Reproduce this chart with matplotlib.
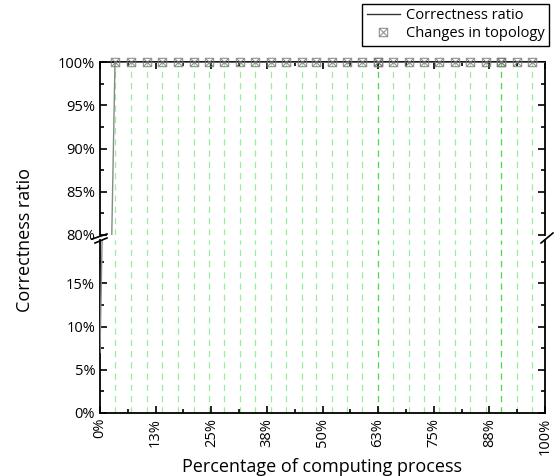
import numpy as np
import matplotlib
matplotlib.use("Agg")
import matplotlib.pyplot as plt
from matplotlib.path import Path
from matplotlib.ticker import FixedLocator, FuncFormatter

plt.rcParams['font.family'] = ['Open Sans', 'DejaVu Sans']

# topology change events (% of computing process); 62.54 and 90.21 occur twice
events = [3.37, 6.97, 10.57, 13.95, 17.55, 21.15, 24.52, 27.90, 31.50, 34.87,
          38.47, 41.84, 45.44, 48.59, 52.19, 55.57, 58.94, 62.54, 62.54, 65.92,
          69.52, 72.89, 76.27, 79.87, 83.24, 86.84, 90.21, 90.21, 93.81, 97.19]

# correctness ratio over the run
ratio_x = [0.0, 3.37, 100.0]
ratio_y = [7.0, 100.0, 100.0]

xticks = [0, 12.5, 25, 37.5, 50, 62.5, 75, 87.5, 100]

# square with a cross inside
box_x = Path([(-1, -1), (1, -1), (1, 1), (-1, 1), (-1, -1),
              (-1, -1), (1, 1), (-1, 1), (1, -1)],
             [Path.MOVETO, Path.LINETO, Path.LINETO, Path.LINETO, Path.CLOSEPOLY,
              Path.MOVETO, Path.LINETO, Path.MOVETO, Path.LINETO])

W, H = 554, 476
fig = plt.figure(figsize=(W / 100, H / 100), dpi=100)
left, right = 100 / W, 545 / W
ax_top = fig.add_axes([left, 1 - 235 / H, right - left, (235 - 62) / H])
ax_bot = fig.add_axes([left, 1 - 413 / H, right - left, (413 - 240) / H])

for ax in (ax_top, ax_bot):
    for ev in set(events):
        n = events.count(ev)
        ax.axvline(ev, color='#44dd44' if n > 1 else '#99ee99', lw=0.9,
                   dashes=(5, 4), zorder=1)
    ax.plot(ratio_x, ratio_y, color='#888888', lw=1.0, zorder=3,
            label='Correctness ratio')
    ax.plot(events, [100] * len(events), ls='none', marker=box_x, ms=6,
            mfc='none', mec='#777777', mew=0.8, alpha=0.8, zorder=4,
            label='Changes in topology', clip_on=False)
    ax.set_xlim(0, 100)
    ax.xaxis.set_major_locator(FixedLocator(xticks))
    ax.xaxis.set_minor_locator(FixedLocator([t + 6.25 for t in xticks[:-1]]))
    ax.tick_params(which='both', direction='in', top=True, right=True,
                   labelsize=10.5, width=1.2)
    ax.tick_params(which='major', length=5)
    ax.tick_params(which='minor', length=3)
    for s in ax.spines.values():
        s.set_linewidth(1.3)

ax_top.set_ylim(80, 100)
ax_top.set_yticks([80, 85, 90, 95, 100])
ax_top.set_yticks([82.5, 87.5, 92.5, 97.5], minor=True)
ax_top.spines['bottom'].set_visible(False)
ax_top.tick_params(which='both', bottom=False, labelbottom=False)

ax_bot.set_ylim(0, 20)
ax_bot.set_yticks([0, 5, 10, 15])
ax_bot.set_yticks([2.5, 7.5, 12.5, 17.5], minor=True)
ax_bot.spines['top'].set_visible(False)
ax_bot.tick_params(which='both', top=False)

pct = FuncFormatter(lambda v, p: '%d%%' % int(v + 0.5))
ax_top.yaxis.set_major_formatter(pct)
ax_bot.yaxis.set_major_formatter(pct)
ax_bot.xaxis.set_major_formatter(pct)
plt.setp(ax_bot.get_xticklabels(), rotation=90)

ax_bot.set_xlabel('Percentage of computing process', fontsize=13, labelpad=2)
fig.text(0.045, 1 - 240 / H, 'Correctness ratio', rotation=90, fontsize=13,
         ha='center', va='center')

# break marks on both y spines
for xs, ys in [((92, 107), (239, 234)), ((95, 107), (243, 238)),
               ((541, 553), (243, 233))]:
    fig.add_artist(plt.Line2D([xs[0] / W, xs[1] / W],
                              [1 - ys[0] / H, 1 - ys[1] / H],
                              color='black', lw=1.2))

h, l = ax_top.get_legend_handles_labels()
leg = fig.legend(h, l, loc='upper right', bbox_to_anchor=(549 / W, 1 - 4 / H),
                 fontsize=10.5, frameon=True, fancybox=False, edgecolor='black',
                 framealpha=1, borderpad=0.3, labelspacing=0.2, handlelength=2.3,
                 handletextpad=0.4, borderaxespad=0)
leg.get_lines()[0].set_color('#333333')

fig.savefig('out.png', dpi=100)
